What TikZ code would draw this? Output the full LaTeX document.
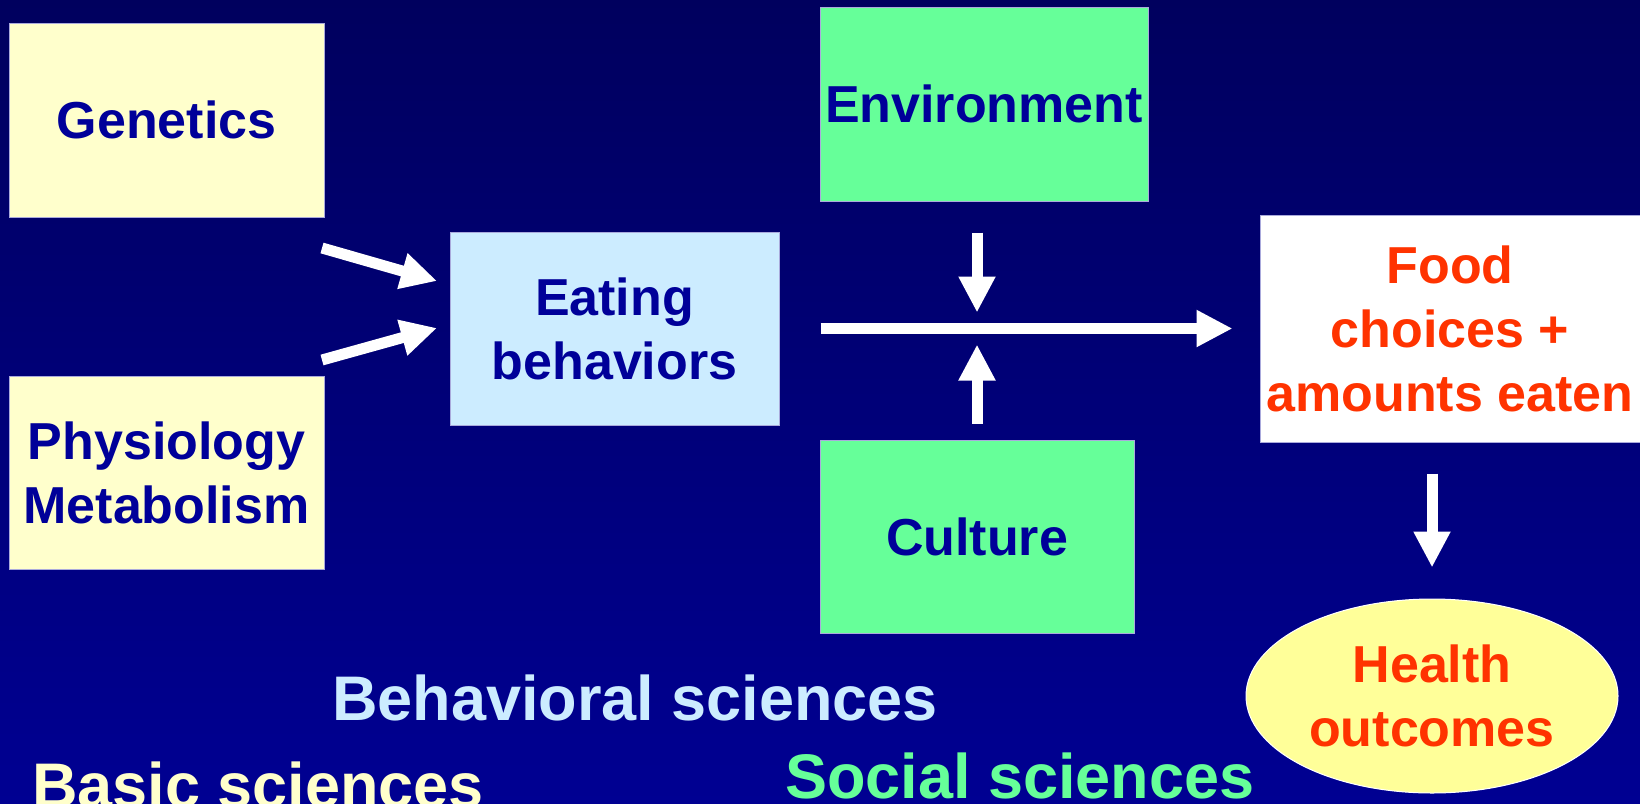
\documentclass[tikz,border=0pt]{standalone}
\usepackage{fontspec}
\setmainfont{Liberation Sans}
\usetikzlibrary{positioning,shapes.geometric,arrows.meta}

\definecolor{navytop}{RGB}{0,0,94}
\definecolor{navybot}{RGB}{0,0,146}
\definecolor{boxtext}{RGB}{0,0,153}
\definecolor{paleyellow}{RGB}{255,255,204}
\definecolor{paleblue}{RGB}{204,236,255}
\definecolor{mintgreen}{RGB}{102,255,153}
\definecolor{lightyellow}{RGB}{255,255,153}
\definecolor{foodred}{RGB}{255,51,0}
\definecolor{edgeline}{RGB}{170,170,220}

\begin{document}
\begin{tikzpicture}[x=0.75pt,y=0.75pt,yscale=-1,xscale=1,
  factor/.style={draw=edgeline,line width=0.75pt,inner sep=0pt,align=center,text=boxtext,font=\bfseries\fontsize{39}{48}\selectfont},
  fatarrow/.style={draw=white,line width=8.25pt,-{Triangle[width=26pt,length=27pt]}},
  science/.style={anchor=base west,inner sep=0pt,font=\bfseries\fontsize{47.25}{56}\selectfont}]

%set diagram size and background
\clip (0,0) rectangle (1640,803);
\shade [top color=navytop,bottom color=navybot] (0,0) rectangle (1640,803);

%Shape: Rectangle [Genetics]
\node [factor,fill=paleyellow,minimum width=236.25pt,minimum height=145.5pt] (gen) at (166.5,120) {Genetics};
%Shape: Rectangle [Physiology]
\node [factor,fill=paleyellow,minimum width=236.25pt,minimum height=144.75pt] (phys) at (166.5,472.5) {Physiology\\Metabolism};
%Shape: Rectangle [Eating]
\node [factor,fill=paleblue,minimum width=246.75pt,minimum height=144.75pt] (eat) at (614.5,328.5) {Eating\\behaviors};
%Shape: Rectangle [Environment]
\node [factor,fill=mintgreen,minimum width=246pt,minimum height=145.5pt] (env) at (984,104) {Environment};
%Shape: Rectangle [Culture]
\node [factor,fill=mintgreen,minimum width=235.5pt,minimum height=144.75pt] (cult) at (977,536.5) {Culture};
%Shape: Rectangle [Food]
\node [factor,fill=white,text=foodred,minimum width=285pt,minimum height=170.25pt] (food) at (1450,328.5) {Food\\choices +\\amounts eaten};
%Shape: Ellipse [Health]
\node [factor,ellipse,draw=white,fill=lightyellow,text=foodred,minimum width=279pt,minimum height=145.5pt] (health) at (1432,696) {Health\\outcomes};

%Arrows into eating behaviors
\coordinate (gtail) at (322,248);
\coordinate (gtip) at (437,281);
\coordinate (ptail) at (322,360);
\coordinate (ptip) at (437,328);
\draw [fatarrow] (gtail) -- (gtip);
\draw [fatarrow] (ptail) -- (ptip);

%Main arrow and side arrows
\coordinate (cross) at (977,328.5);
\draw [fatarrow,shorten <=30.75pt,shorten >=20.25pt] (eat.east) -- (food.west);
\draw [fatarrow,shorten <=23.25pt,shorten >=12pt] (env.south -| cross) -- (cross);
\draw [fatarrow,shorten <=12pt,shorten >=12pt] (cult.north -| cross) -- (cross);
\draw [fatarrow,shorten <=23.25pt,shorten >=23.25pt] (food.south -| health.north) -- (health.north);

% Text Node
\node [science,text=paleblue] (behav) at (332,720) {Behavioral sciences};
% Text Node
\node [science,text=paleyellow] (basic) at (32,807) {Basic sciences};
% Text Node
\node [science,text=mintgreen] (social) at (785,798) {Social sciences};

\end{tikzpicture}
\end{document}
